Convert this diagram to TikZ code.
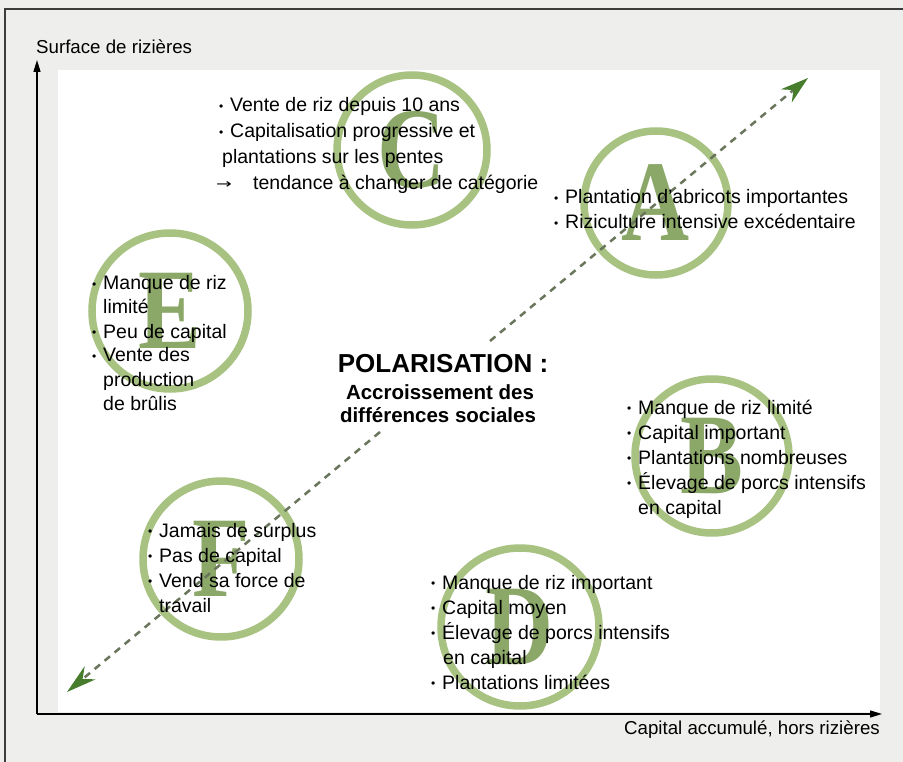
\documentclass[tikz,border=0pt]{standalone}
\usepackage{fontspec}
\setmainfont{Liberation Sans}
\newfontfamily\serifbig{Liberation Serif}
\newfontfamily\symfont{DejaVu Sans}
\usetikzlibrary{arrows.meta}
\definecolor{ringgreen}{RGB}{168,194,130}
\definecolor{lettergreen}{RGB}{140,168,104}
\definecolor{tipgreen}{RGB}{70,124,44}
\definecolor{dashgray}{RGB}{105,118,92}
\definecolor{bggray}{RGB}{238,238,236}
\definecolor{framecol}{RGB}{60,60,60}
\newcommand\bl{\makebox[11pt][l]{\raisebox{1.5pt}{\fontsize{12}{12}\selectfont •}}}
\begin{document}
\begin{tikzpicture}[x=1pt,y=-1pt,
  itm/.style={anchor=base west, inner sep=0pt, font=\fontsize{19.5}{24}\selectfont},
  ring/.style={circle, draw=ringgreen, line width=7.5pt, inner sep=0pt},
  bigletter/.style={inner sep=0pt, text=lettergreen, font=\serifbig\bfseries\fontsize{115}{115}\selectfont},
  axlabel/.style={inner sep=0pt, font=\fontsize{18.7}{22}\selectfont},
  dashline/.style={draw=dashgray, line width=2.5pt, dash pattern=on 7pt off 6pt},
  axisline/.style={draw=black, line width=1.4pt},
  poltitle/.style={anchor=base, inner sep=0pt, font=\bfseries\fontsize{26}{28}\selectfont},
  polsub/.style={anchor=base, inner sep=0pt, font=\bfseries\fontsize{20.5}{22}\selectfont}]
\useasboundingbox (0,0) rectangle (903,762);
\fill[bggray] (0,0) rectangle (903,762);
\fill[white] (58,70) rectangle (880,712);
\draw[framecol, line width=1.5pt] (5,762) -- (5,9) -- (903,9);

% rings with letters
\foreach \n/\x/\y/\d in {C/412/150/150, A/656/203/144, E/170/311/156, B/712/456/154, F/221/559/156, D/520/627/158} {
  \node[ring, minimum size=\d pt] (ring\n) at (\x,\y) {};
  \node[bigletter] (let\n) at (\x,\y) {\scalebox{0.82}[1]{\n}};
}

% dashed polarisation arrows
\coordinate (tipUR) at (808,78);
\coordinate (tipLL) at (67,692);
\coordinate (gapLo) at (380,432);
\coordinate (gapHi) at (490,341);
\draw[dashline, -{Stealth[length=28pt,width=17pt,color=tipgreen]}] (gapHi) -- (tipUR);
\draw[dashline, -{Stealth[length=30pt,width=17pt,color=tipgreen]}] (gapLo) -- (tipLL);

% C block
\node[itm] (c1) at (219,112) {\bl Vente de riz depuis 10 ans};
\node[itm] (c2) at (219,138) {\bl Capitalisation progressive et};
\node[itm] (c3) at (222,164) {plantations sur les pentes};
\node[itm] (c4) at (216,190) {\makebox[37pt][l]{\raisebox{1pt}{\scalebox{1.45}[1]{\symfont\fontsize{13}{13}\selectfont →}}}tendance à changer de catégorie};

% A block
\node[itm] (a1) at (554,204) {\bl Plantation d’abricots importantes};
\node[itm] (a2) at (554,229) {\bl Riziculture intensive excédentaire};

% E block
\node[itm] (e1) at (92,290) {\bl Manque de riz};
\node[itm] (e2) at (103,314) {limité};
\node[itm] (e3) at (92,338) {\bl Peu de capital};
\node[itm] (e4) at (92,362) {\bl Vente des};
\node[itm] (e5) at (103,386) {production};
\node[itm] (e6) at (103,410) {de brûlis};

% B block
\node[itm] (b1) at (627,414) {\bl Manque de riz limité};
\node[itm] (b2) at (627,439) {\bl Capital important};
\node[itm] (b3) at (627,464) {\bl Plantations nombreuses};
\node[itm] (b4) at (627,489) {\bl Élevage de porcs intensifs};
\node[itm] (b5) at (638,514) {en capital};

% F block
\node[itm] (f1) at (148,537) {\bl Jamais de surplus};
\node[itm] (f2) at (148,562) {\bl Pas de capital};
\node[itm] (f3) at (148,587) {\bl Vend sa force de};
\node[itm] (f4) at (159,612) {travail};

% D block
\node[itm] (d1) at (431,589) {\bl Manque de riz important};
\node[itm] (d2) at (431,614) {\bl Capital moyen};
\node[itm] (d3) at (431,639) {\bl Élevage de porcs intensifs};
\node[itm] (d4) at (443,664) {en capital};
\node[itm] (d5) at (431,689) {\bl Plantations limitées};

% centre title
\node[poltitle] (pol1) at (443,372) {POLARISATION :};
\node[polsub] (pol2) at (440,399) {Accroissement des};
\node[polsub] (pol3) at (438,422) {différences sociales};

% axes
\coordinate (origin) at (37,714);
\coordinate (ytop) at (37,60);
\coordinate (xend) at (882,714);
\draw[axisline, -{Triangle[length=12pt,width=7pt]}] (origin) -- (ytop);
\draw[axisline, -{Triangle[length=12pt,width=7pt]}] (origin) -- (xend);
\node[axlabel, anchor=base west] (ylab) at (36,54) {Surface de rizières};
\node[axlabel, anchor=base east] (xlab) at (880,734) {Capital accumulé, hors rizières};
\end{tikzpicture}
\end{document}
